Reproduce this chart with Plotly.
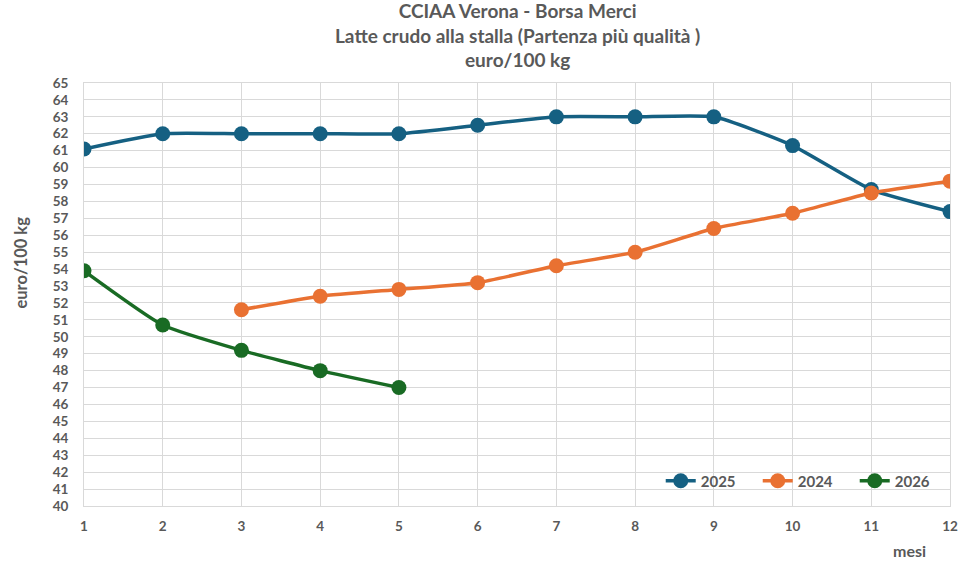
import plotly.graph_objects as go

mesi = list(range(1, 13))
mesi_2024 = list(range(3, 13))
mesi_2026 = list(range(1, 6))

prezzi_2025 = [61.1, 62.0, 62.0, 62.0, 62.0, 62.5, 63.0, 63.0, 63.0, 61.3, 58.7, 57.4]
prezzi_2024 = [51.6, 52.4, 52.8, 53.2, 54.2, 55.0, 56.4, 57.3, 58.5, 59.2]
prezzi_2026 = [53.9, 50.7, 49.2, 48.0, 47.0]

grigio = '#595959'
font_name = 'Lato'

fig = go.Figure()
serie = [
    ('2025', mesi, prezzi_2025, '#156082'),
    ('2024', mesi_2024, prezzi_2024, '#E97132'),
    ('2026', mesi_2026, prezzi_2026, '#196B24'),
]
for nome, x, y, colore in serie:
    fig.add_trace(go.Scatter(
        x=x, y=y, name=nome, mode='lines+markers',
        line=dict(color=colore, width=3.5, shape='spline', smoothing=0.5),
        marker=dict(color=colore, size=15),
    ))

fig.update_layout(
    width=975, height=567,
    margin=dict(l=84, r=25, t=83, b=61),
    paper_bgcolor='white', plot_bgcolor='white',
    font=dict(family=font_name, color=grigio, size=13),
    legend=dict(
        orientation='h', x=1.002, xanchor='right', y=0.059, yanchor='middle',
        bgcolor='rgba(0,0,0,0)', font=dict(size=15, color=grigio, family=font_name, weight='bold'),
        entrywidth=52, entrywidthmode='pixels', itemwidth=30,
    ),
    showlegend=True,
)
fig.update_xaxes(
    range=[1, 12], tickmode='linear', tick0=1, dtick=1,
    showgrid=True, gridcolor='#d9d9d9', gridwidth=1,
    showline=True, linecolor='#d9d9d9', mirror=True,
    zeroline=False, ticks='', ticklabelstandoff=8,
    tickfont=dict(size=13.5, color=grigio, family=font_name, weight='bold'),
)
fig.update_yaxes(
    range=[40, 65], tickmode='linear', tick0=40, dtick=1,
    showgrid=True, gridcolor='#d9d9d9', gridwidth=1,
    showline=True, linecolor='#d9d9d9', mirror=True,
    zeroline=False, ticks='', ticklabelstandoff=12,
    tickfont=dict(size=13.5, color=grigio, family=font_name, weight='bold'),
)
fig.add_annotation(
    text='<b>CCIAA Verona - Borsa Merci<br>Latte crudo alla stalla (Partenza più qualità )<br>euro/100 kg</b>',
    xref='paper', yref='paper', x=0.5, y=1.023, xanchor='center', yanchor='bottom',
    showarrow=False, font=dict(size=19, color=grigio, family=font_name),
)
fig.add_annotation(
    text='<b>euro/100 kg</b>', xref='paper', yref='paper', x=-0.073, y=0.575,
    xanchor='center', yanchor='middle', textangle=-90, showarrow=False,
    font=dict(size=16.5, color=grigio, family=font_name),
)
fig.add_annotation(
    text='<b>mesi</b>', xref='paper', yref='paper', x=0.953, y=-0.106,
    xanchor='center', yanchor='middle', showarrow=False,
    font=dict(size=16, color=grigio, family=font_name),
)

# drop the default 8px page margin so the figure fills the window
fig.write_html('out.html', config={'displayModeBar': False},
               post_script="document.body.style.margin='0';")
